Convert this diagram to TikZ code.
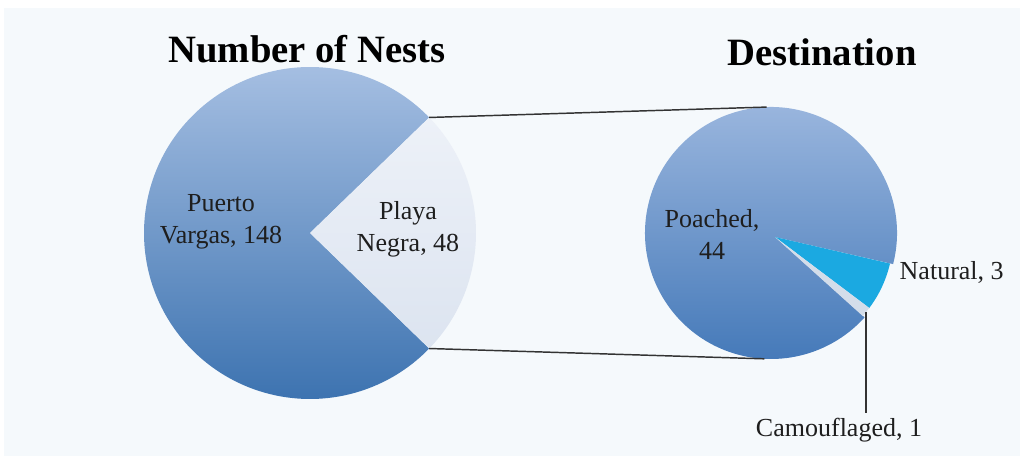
\documentclass[tikz,border=0pt]{standalone}
\usepackage{fontspec}
\setmainfont{Liberation Serif}
\definecolor{bgblue}{HTML}{F5F9FC}
\definecolor{pvtop}{HTML}{AAC2E4}
\definecolor{pvbot}{HTML}{3A71AF}
\definecolor{pntop}{HTML}{EDF1F8}
\definecolor{pnbot}{HTML}{DCE4F0}
\definecolor{potop}{HTML}{9DB8DF}
\definecolor{pobot}{HTML}{4378B8}
\definecolor{natcyan}{HTML}{1BA9E1}
\definecolor{camo}{HTML}{D3DDEA}
\definecolor{ink}{HTML}{1E1E1E}

\begin{document}
\begin{tikzpicture}[x=0.75pt,y=0.75pt,
  title/.style={font=\bfseries\fontsize{29}{32}\selectfont,text=black},
  lbl/.style={font=\fontsize{19.5}{24}\selectfont,text=ink,align=center},
  leader/.style={draw=black!80,line width=1.1pt}]
\fill[white] (0,0) rectangle (1020,456);
\fill[bgblue] (4,0) rectangle (1020,448); %background
\coordinate (cL) at (310,223);
\coordinate (cR) at (771,223);
\coordinate (apex) at (775,219);
% left pie
\shade[top color=pvtop,bottom color=pvbot] (cL) -- ++(44.1:166) arc[start angle=44.1,end angle=315.9,radius=166] -- cycle;
\shade[top color=pntop,bottom color=pnbot] (cL) -- ++(-44.1:166) arc[start angle=-44.1,end angle=44.1,radius=166] -- cycle;
\path (cL) ++(44.1:166) coordinate (pnTop);
\path (cL) ++(-44.1:166) coordinate (pnBot);
% right pie
\path (cR) ++(-14.3:126) coordinate (poA);
\shade[top color=potop,bottom color=pobot] (apex) -- (poA) arc[start angle=-14.3,end angle=318,radius=126] -- cycle;
\fill[natcyan] (apex) -- ++(-13:118) arc[start angle=-13,end angle=-37,radius=118] -- cycle;
\fill[camo] (apex) -- ++(-37:118) arc[start angle=-37,end angle=-42,radius=118] -- cycle;
\path (cR) ++(92:126) coordinate (poTop);
\path (cR) ++(-93:126) coordinate (poBot);
\path (apex) ++(-39.5:118) coordinate (caEdge);
% titles and labels
\node[title] (ttlL) at (307,407) {Number of Nests};
\node[title] (ttlR) at (822,404) {Destination};
\node[lbl] (pv) at (221,234) {Puerto\\Vargas, 148};
\node[lbl] (pn) at (408,227) {Playa\\Negra, 48};
\node[lbl] (po) at (712,222) {Poached,\\44};
\node[lbl,anchor=west] (nat) at (895,184) {Natural, 3};
\node[lbl] (camolbl) at (839,26) {Camouflaged, 1};
% connectors
\draw[leader] (pnTop) -- (poTop);
\draw[leader] (pnBot) -- (poBot);
\draw[leader] (caEdge) -- (caEdge |- camolbl.north);
\end{tikzpicture}
\end{document}
